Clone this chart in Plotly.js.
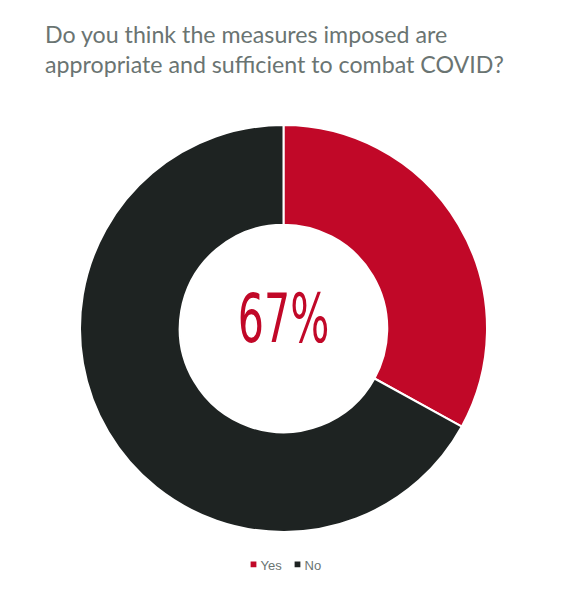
<!DOCTYPE html>
<html>
<head>
<meta charset="utf-8">
<script src="https://cdn.plot.ly/plotly-3.0.1.min.js"></script>
<style>html,body{margin:0;padding:0;background:#fff;}#chart{width:570px;height:595px;}</style>
</head>
<body>
<div id="chart"></div>
<script>
const categories = ["Yes", "No"];
const shares = [33, 67];
const centerLabel = "67%";
const chartTitle = "Do you think the measures imposed are<br>appropriate and sufficient to combat COVID?";

const trace = {
  type: "pie",
  labels: categories,
  values: shares,
  hole: 0.51,
  sort: false,
  direction: "clockwise",
  rotation: 0,
  textinfo: "none",
  marker: {colors: ["#C10828", "#1E2322"], line: {color: "#ffffff", width: 2}},
  domain: {x: [0, 1], y: [0, 1]}
};

const layout = {
  width: 570, height: 595,
  paper_bgcolor: "#ffffff",
  margin: {l: 80, r: 83, t: 125, b: 63},
  title: {
    text: chartTitle,
    x: 45/570, xref: "container", xanchor: "left",
    y: 1 - 43/595, yref: "container", yanchor: "top",
    font: {family: "Lato, sans-serif", size: 23.2, color: "#6A7472"}
  },
  showlegend: true,
  legend: {
    orientation: "h", x: 0.5, xanchor: "center", y: -0.043, yanchor: "top",
    font: {family: "Liberation Sans, Arial, sans-serif", size: 13, color: "#6A7472"}
  },
  annotations: [{
    text: centerLabel, x: 0.5, y: 0.525, xref: "paper", yref: "paper",
    showarrow: false,
    font: {family: "DejaVu Sans, sans-serif", size: 68, color: "#C10828"}
  }]
};

function parseT(s) {
  const m = /translate\(\s*([-\d.e]+)[ ,]+([-\d.e]+)/.exec(s || "");
  return m ? {x: +m[1], y: +m[2]} : {x: 0, y: 0};
}

Plotly.newPlot("chart", [trace], layout, {displayModeBar: false, staticPlot: true}).then(gd => {
  // narrow the centre figure like the condensed display face of the original
  const t = gd.querySelector(".annotation-text");
  if (t) {
    const bb = t.getBBox();
    const cx = bb.x + bb.width / 2;
    t.setAttribute("transform", `translate(${cx},0) scale(0.605,1) translate(${-cx},0)`);
  }
  // compact legend: small square swatches close to their labels
  const leg = gd.querySelector(".legend");
  if (leg) {
    const lt = parseT(leg.getAttribute("transform"));
    const targets = [253.5, 297.5];
    leg.querySelectorAll(".traces").forEach((g, i) => {
      const it = parseT(g.getAttribute("transform"));
      g.setAttribute("transform", `translate(${targets[i] - 33 - lt.x},${it.y})`);
      g.querySelectorAll(".legendpoints path").forEach(p => p.setAttribute("transform", "translate(33,0) scale(0.58)"));
    });
  }
});
</script>
</body>
</html>
